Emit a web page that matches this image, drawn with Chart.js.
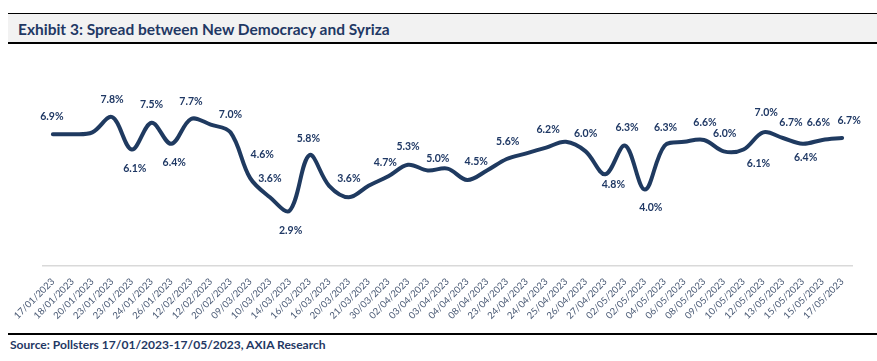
<!DOCTYPE html>
<html><head><meta charset="utf-8">
<script src="https://cdn.jsdelivr.net/npm/chart.js@4.4.0/dist/chart.umd.min.js"></script>
<style>
html,body{margin:0;padding:0;background:#fff;width:877px;height:361px;overflow:hidden;font-family:Lato,"Open Sans",sans-serif;}
#band{position:absolute;left:8px;top:13px;width:869px;height:28px;background:#f2f2f2;border-top:1.5px solid #000;border-bottom:2px solid #000;}
.txt{position:absolute;white-space:nowrap;font-weight:bold;color:#1f3864;display:inline-block;line-height:1;}
#title{left:18px;top:22px;}
#rule{position:absolute;left:8px;top:333px;width:869px;height:0;border-top:2px solid #000;}
#source{left:10px;top:339px;}
#chart{position:absolute;left:0;top:50px;}
</style>
</head><body>
<div id="band"></div>
<div id="title" class="txt">Exhibit 3: Spread between New Democracy and Syriza</div>
<div id="rule"></div>
<div id="source" class="txt">Source: Pollsters 17/01/2023-17/05/2023, AXIA Research</div>
<canvas id="chart" width="877" height="280"></canvas>
<script>
const pollDates = ["17/01/2023","18/01/2023","20/01/2023","23/01/2023","23/01/2023","24/01/2023","26/01/2023","12/02/2023","12/02/2023","20/02/2023","09/03/2023","10/03/2023","14/03/2023","16/03/2023","16/03/2023","20/03/2023","21/03/2023","30/03/2023","02/04/2023","03/04/2023","03/04/2023","04/04/2023","08/04/2023","23/04/2023","24/04/2023","24/04/2023","25/04/2023","26/04/2023","27/04/2023","02/05/2023","02/05/2023","04/05/2023","06/05/2023","08/05/2023","09/05/2023","10/05/2023","12/05/2023","13/05/2023","15/05/2023","15/05/2023","17/05/2023"];
const spread = [6.9,6.9,7.0,7.8,6.1,7.5,6.4,7.7,7.4,7.0,4.6,3.6,2.9,5.8,4.2,3.6,4.2,4.7,5.3,5.0,5.1,4.5,5.0,5.6,5.9,6.2,6.5,6.0,4.8,6.3,4.0,6.3,6.5,6.6,6.0,6.1,7.0,6.7,6.4,6.6,6.7];
// label offsets relative to each point (style only); null = no label
const labelOffsets = [[-1,-18],null,null,[0,-17],[3,19],[0,-18],[3,19],[0,-17],null,[0,-18],[12,-24],[0,-19],[1,20],[-1,-17],null,[0,-19],null,[-3,-14],[0,-18],[10,-12],null,[9,-18],null,[1,-17],null,[2,-18],null,[0,-18],[8,10],[2,-18],[6,18],[1,-18],null,[1,-17],[1,-18],[15,14],[3,-20],[8,-15],[3,14],[-4,-17],[7,-17]];

function fit(el,w){el.style.fontSize='100px';const r=el.getBoundingClientRect().width;el.style.fontSize=(100*w/r)+'px';}
fit(document.getElementById('title'),372);
fit(document.getElementById('source'),316);

const labelPlugin={id:'vals',afterDatasetsDraw(chart){
  const c=chart.ctx;const meta=chart.getDatasetMeta(0);
  c.save();c.font='bold 10.5px Lato';c.fillStyle='#1f3864';c.textAlign='center';c.textBaseline='middle';
  meta.data.forEach((p,i)=>{const o=labelOffsets[i];if(!o)return;c.fillText(spread[i].toFixed(1)+'%',p.x+o[0],p.y+o[1]);});
  c.restore();}};

new Chart(document.getElementById('chart'),{
  type:'line',
  data:{labels:pollDates,datasets:[{data:spread,borderColor:'#1f3a60',borderWidth:4,tension:0.35,pointRadius:0,fill:false,borderCapStyle:'round',borderJoinStyle:'round'}]},
  options:{responsive:false,animation:false,devicePixelRatio:1,
    layout:{padding:{left:43,right:25,top:25,bottom:0}},
    plugins:{legend:{display:false},tooltip:{enabled:false}},
    scales:{
      x:{offset:true,grid:{display:false,drawTicks:false},border:{display:true,color:'#d9d9d9',width:1.5},
         ticks:{autoSkip:false,maxRotation:45,minRotation:45,padding:10,color:'#4a5a75',font:{family:'Lato',size:9.5}},
         afterFit(s){s.height=64;}},
      y:{display:false,min:0,max:10}
    }},
  plugins:[labelPlugin]
});
</script>
</body></html>
